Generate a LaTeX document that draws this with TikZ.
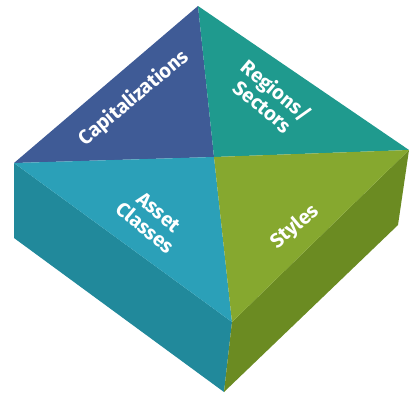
\documentclass[tikz,border=0pt]{standalone}
\usepackage{fontspec}
\setmainfont{Fira Sans}
\usepackage{tikz}

\definecolor{capblue}{HTML}{3F5B96}
\definecolor{regteal}{HTML}{1F9A8E}
\definecolor{assetcyan}{HTML}{2BA0B8}
\definecolor{stylegreen}{HTML}{86A82F}
\definecolor{sidecyan}{HTML}{21899B}
\definecolor{sidegreen}{HTML}{6B8B22}

\begin{document}
\begin{tikzpicture}[
        x = 1pt, y = -1pt,
        label/.style = {
            text = white,
            font = \fontsize{20}{21}\selectfont\bfseries,
            align = center,
            inner sep = 0pt
        }
        ]
        \useasboundingbox (0,0) rectangle (409,392);
%
        \coordinate (top) at (198,6);
        \coordinate (right) at (409,150);
        \coordinate (left) at (14,163);
        \coordinate (front) at (232,322);
        \coordinate (mid) at (214,157);
        \coordinate (leftbot) at (14,238);
        \coordinate (frontbot) at (224,392);
        \coordinate (rightbot) at (398,225);
%
        \fill[sidecyan] (left) -- (front) -- (frontbot) -- (leftbot) -- cycle;
        \fill[sidegreen] (front) -- (right) -- (rightbot) -- (frontbot) -- cycle;
%
        \fill[capblue] (left) -- (top) -- (mid) -- cycle;
        \fill[regteal] (top) -- (right) -- (mid) -- cycle;
        \fill[assetcyan] (left) -- (mid) -- (front) -- cycle;
        \fill[stylegreen] (mid) -- (right) -- (front) -- cycle;
%
        \node[label, rotate=40] (cap) at (134,98) {Capitalizations};
        \node[label, rotate=-40] (reg) at (270,98) {Regions/\\Sectors};
        \node[label, rotate=-40] (asset) at (152,220) {Asset\\Classes};
        \node[label, rotate=40] (sty) at (295,227) {Styles};
\end{tikzpicture}
\end{document}
